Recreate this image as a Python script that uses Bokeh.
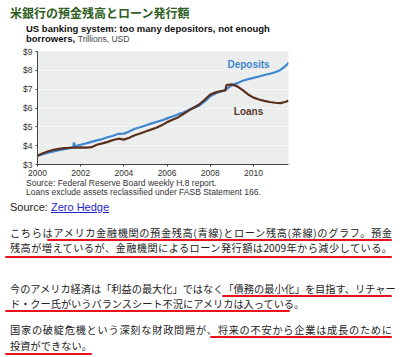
from bokeh.plotting import figure
from bokeh.models import Div, Label, Range1d, FixedTicker
from bokeh.layouts import column
from bokeh.embed import file_html
from bokeh.resources import INLINE

# ---------------- data ----------------
dep_years = [2000.0, 2000.25, 2000.5, 2000.75, 2001.0, 2001.25, 2001.5, 2001.66, 2001.69, 2001.73,
             2002.0, 2002.25, 2002.5, 2002.75, 2003.0, 2003.25, 2003.5, 2003.75, 2004.0, 2004.25,
             2004.5, 2004.75, 2005.0, 2005.25, 2005.5, 2005.75, 2006.0, 2006.25, 2006.5, 2006.75,
             2007.0, 2007.25, 2007.5, 2007.75, 2008.0, 2008.25, 2008.5, 2008.75, 2009.0, 2009.25,
             2009.5, 2009.75, 2010.0, 2010.25, 2010.5, 2010.75, 2011.0, 2011.25, 2011.5, 2011.62]
deposits = [3.47, 3.55, 3.63, 3.70, 3.76, 3.81, 3.87, 3.92, 4.17, 3.97,
            4.05, 4.12, 4.20, 4.28, 4.35, 4.45, 4.53, 4.63, 4.64, 4.75,
            4.90, 4.98, 5.07, 5.17, 5.26, 5.34, 5.45, 5.55, 5.66, 5.76,
            5.90, 6.02, 6.14, 6.35, 6.62, 6.78, 6.88, 7.00, 7.22, 7.32,
            7.45, 7.53, 7.60, 7.67, 7.75, 7.82, 7.90, 8.02, 8.25, 8.40]

loan_years = [2000.0, 2000.25, 2000.5, 2000.75, 2001.0, 2001.25, 2001.5, 2001.75, 2002.0, 2002.25,
              2002.5, 2002.75, 2003.0, 2003.25, 2003.5, 2003.75, 2004.0, 2004.25, 2004.5, 2004.75,
              2005.0, 2005.25, 2005.5, 2005.75, 2006.0, 2006.25, 2006.5, 2006.75, 2007.0, 2007.25,
              2007.5, 2007.75, 2008.0, 2008.25, 2008.5, 2008.7, 2008.75, 2009.0, 2009.25, 2009.5,
              2009.75, 2010.0, 2010.25, 2010.5, 2010.75, 2011.0, 2011.25, 2011.5, 2011.62]
loans = [3.47, 3.60, 3.70, 3.78, 3.83, 3.87, 3.89, 3.90, 3.91, 3.90,
         3.92, 4.05, 4.12, 4.20, 4.30, 4.37, 4.32, 4.42, 4.55, 4.65,
         4.75, 4.85, 4.95, 5.08, 5.25, 5.38, 5.50, 5.68, 5.86, 6.03,
         6.20, 6.45, 6.72, 6.83, 6.90, 6.93, 7.22, 7.25, 7.15, 6.95,
         6.72, 6.55, 6.45, 6.38, 6.32, 6.28, 6.26, 6.33, 6.40]

y_ticks = [3, 4, 5, 6, 7, 8, 9]
y_tick_labels = ["$3", "$4", "$5", "$6", "$7", "$8", "$9"]
x_ticks = [2000, 2002, 2004, 2006, 2008, 2010]
x_tick_labels = ["2000", "2002", "2004", "2006", "2008", "2010"]

title_jp = "米銀行の預金残高とローン発行額"
subtitle1 = "US banking system: too many depositors, not enough"
subtitle2a = "borrowers,"
subtitle2b = "Trillions, USD"
note1 = "Source: Federal Reserve Board weekly H.8 report."
note2 = "Loans exclude assets reclassified under FASB Statement 166."

para_lines = [
    "こちらはアメリカ金融機関の預金残高(青線)とローン残高(茶線)のグラフ。預金",
    "残高が増えているが、金融機関によるローン発行額は2009年から減少している。",
    "今のアメリカ経済は「利益の最大化」ではなく「債務の最小化」を目指す、リチャー",
    "ド・クー氏がいうバランスシート不況にアメリカは入っている。",
    "国家の破綻危機という深刻な財政問題が、将来の不安から企業は成長のために",
    "投資ができない。",
]

# ---------------- header ----------------
header_html = f"""
<div style="position:relative;width:400px;height:45px;font-family:'Liberation Sans',Arial,sans-serif;">
  <div style="position:absolute;left:10px;top:6px;width:175px;font-family:'Noto Sans CJK JP';font-weight:bold;
       font-size:12px;line-height:13px;color:#2f5e1e;white-space:nowrap;text-align:justify;text-align-last:justify;">{title_jp}</div>
  <div style="position:absolute;left:26px;top:24px;font-size:9.5px;line-height:10px;font-weight:bold;color:#111;white-space:nowrap;">{subtitle1}</div>
  <div style="position:absolute;left:26px;top:34px;font-size:9.5px;line-height:10px;white-space:nowrap;color:#111;">
    <b>{subtitle2a}</b> <span style="font-weight:normal;color:#444;font-size:8.5px">{subtitle2b}</span></div>
</div>
"""
header = Div(text=header_html, width=400, height=45, margin=0)

# ---------------- chart ----------------
p = figure(width=400, height=134, output_backend="svg", toolbar_location=None,
           x_range=Range1d(2000, 2011.62), y_range=Range1d(3, 9),
           min_border_left=37, min_border_right=112, min_border_top=6, min_border_bottom=15)
p.background_fill_color = "#eceeed"
p.border_fill_color = "white"
p.outline_line_color = None

p.line(dep_years, deposits, line_color="#3f86d0", line_width=2.2)
p.line(loan_years, loans, line_color="#5a2f1e", line_width=2.2)

p.xgrid.grid_line_color = None
p.ygrid.ticker = FixedTicker(ticks=y_ticks)
p.ygrid.grid_line_color = "white"
p.ygrid.grid_line_dash = "2 2"
p.ygrid.grid_line_width = 1

p.yaxis.ticker = FixedTicker(ticks=y_ticks)
p.yaxis.major_label_overrides = {t: l for t, l in zip(y_ticks, y_tick_labels)}
p.xaxis.ticker = FixedTicker(ticks=x_ticks)
p.xaxis.major_label_overrides = {t: l for t, l in zip(x_ticks, x_tick_labels)}
for ax in (p.xaxis, p.yaxis):
    ax.axis_line_color = "#444"
    ax.axis_line_width = 1
    ax.major_tick_line_color = "#444"
    ax.major_tick_in = 0
    ax.major_tick_out = 2
    ax.minor_tick_line_color = None
    ax.major_label_text_font = "Liberation Sans"
    ax.major_label_text_font_size = "8.5px"
    ax.major_label_text_color = "#333"
    ax.major_label_standoff = 3

p.add_layout(Label(x=2009.77, y=8.32, text="Deposits", text_align="center", text_baseline="middle",
                   text_font="Liberation Sans", text_font_style="bold", text_font_size="10px",
                   text_color="#3f86d0"))
p.add_layout(Label(x=2009.77, y=5.84, text="Loans", text_align="center", text_baseline="middle",
                   text_font="Liberation Sans", text_font_style="bold", text_font_size="10px",
                   text_color="#5a3a2a"))

# ---------------- body text ----------------
line_tops = [48, 63, 104, 119, 145, 161]
line_widths = [382, 382, 382, 280, 382, 82]
ul = [(47, 60, 345), (5, 77, 387), (222, 116, 170), (5, 131, 285), (210, 157, 182), (5, 174, 87)]

parts = []
parts.append(f"""<div style="position:absolute;left:26px;top:0px;font-size:8.5px;line-height:9px;color:#333;white-space:nowrap;">{note1}</div>""")
parts.append(f"""<div style="position:absolute;left:26px;top:9px;font-size:8.5px;line-height:9px;color:#333;white-space:nowrap;">{note2}</div>""")
parts.append("""<div style="position:absolute;left:10px;top:22px;font-size:11px;line-height:12px;color:#222;white-space:nowrap;">Source: <span style="color:#2222cc;text-decoration:underline;">Zero Hedge</span></div>""")
for txt, top, w in zip(para_lines, line_tops, line_widths):
    parts.append(f"""<div style="position:absolute;left:10px;top:{top}px;width:{w}px;font-family:'Noto Sans CJK JP';font-size:10.2px;line-height:12px;color:#222;white-space:nowrap;text-align:justify;text-align-last:justify;">{txt}</div>""")
for left, top, w in ul:
    parts.append(f"""<div style="position:absolute;left:{left}px;top:{top}px;width:{w}px;height:2px;background:#e8141c;border-radius:1px;"></div>""")

body_html = ("""<div style="position:relative;width:400px;height:178px;font-family:'Liberation Sans',Arial,sans-serif;overflow:visible;">"""
             + "".join(parts) + "</div>")
body = Div(text=body_html, width=400, height=178, margin=0)

layout = column(header, p, body, spacing=0)
open("out.html", "w").write(file_html(layout, INLINE))
